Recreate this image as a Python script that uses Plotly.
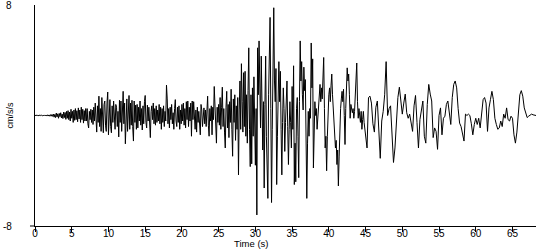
import numpy as np
import plotly.graph_objects as go

# Sampling of the digitised record (seconds)
dt_fine = 0.1   # 0 - 44.9 s
dt_coda = 0.2   # 45 - 68.2 s
t_coda_start = 45.0

# Acceleration (cm/s/s)
acc_early = [  # 0.0 - 6.9 s
    0.0, 0.01, -0.01, 0.02, -0.02, 0.01, -0.02, 0.03, -0.02, 0.02,
    -0.03, 0.03, -0.02, 0.04, -0.03, 0.03, -0.04, 0.05, -0.04, 0.04,
    -0.05, 0.06, -0.05, 0.07, -0.06, 0.1, -0.12, 0.08, -0.15, 0.18,
    -0.1, 0.12, -0.2, 0.15, -0.08, 0.2, -0.18, 0.1, -0.22, 0.25,
    -0.15, 0.22, -0.28, 0.3, -0.2, 0.35, -0.3, 0.25, -0.4, 0.45,
    -0.2, 0.3, -0.5, 0.4, -0.35, 0.5, -0.3, 0.35, -0.45, 0.55,
    -0.25, 0.4, -0.5, 0.6, -0.3, 0.45, -0.55, 0.35, -0.4, 0.5,
]
acc_strong = [  # 7.0 - 29.9 s
    -0.4, 0.5, -0.6, -0.9, 0.3, -0.3, 0.45, -0.5, 0.4, -0.65,
    0.6, -0.4, 0.9, -0.6, -1.2, 0.7, -0.5, 1.4, -0.8, 0.5,
    -1.15, 1.3, -0.6, -1.25, 0.8, 1.05, -0.7, -1.15, 0.9, 1.7,
    -1.4, 0.6, 1.15, -0.8, -1.25, 0.7, -0.5, 1.05, -0.6, -1.0,
    0.8, 0.6, -0.8, 0.3, -1.55, 1.1, -0.5, 1.05, -1.15, 1.4,
    1.75, -0.6, 0.9, -2.05, 0.8, 1.2, -1.15, 0.5, 1.45, -1.0,
    0.9, -0.7, 1.1, -0.8, -1.85, 1.05, -0.5, 0.75, -1.0, 0.8,
    -0.9, 0.6, -0.4, 1.05, -0.7, 0.5, -1.05, 0.7, -0.6, 1.0,
    1.45, -0.5, -0.9, 0.75, -0.4, 0.6, -0.8, -1.6, 0.3, 0.7,
    -0.3, 0.9, -0.6, 0.5, -0.7, 0.7, -0.5, 0.4, -0.4, 0.8,
    -0.6, 0.6, -1.0, 0.5, -0.5, 0.7, -0.8, 0.3, -0.4, 2.2,
    1.2, -0.6, 0.5, -0.9, 0.6, -0.3, 0.8, -0.6, 0.2, -1.0,
    0.5, 1.15, -0.4, -0.8, 0.6, -0.5, 0.7, -1.0, 0.4, -0.6,
    0.8, -0.4, 0.9, -0.7, 0.5, -0.9, 1.0, -0.3, 1.05, -0.8,
    0.6, -0.4, 0.9, -1.5, 1.05, -0.3, 1.0, -0.6, -1.0, 0.4,
    -1.2, 0.6, -0.5, 0.3, -0.9, -1.4, 0.8, 0.4, -0.8, 0.3,
    0.55, -0.6, 0.4, -0.8, 0.9, 1.4, -0.7, -1.5, 0.5, -0.4,
    0.7, -1.4, 0.6, -0.3, 2.1, 0.4, -0.9, -2.0, 0.6, -0.5,
    0.8, -0.7, 1.3, -1.0, 0.6, 2.05, -0.8, 0.5, -1.2, -2.35,
    0.6, 1.75, -0.9, 0.8, -1.6, 1.0, -0.5, 1.9, -1.0, -2.95,
    1.2, -0.5, 1.5, -1.8, 0.7, -1.0, 1.3, -4.3, 0.4, 2.5,
    -1.0, 3.75, 1.0, -1.2, 3.1, -0.8, 3.2, -1.5, 1.5, -2.0,
    1.8, 4.9, -1.0, -3.7, 1.5, -3.5, 2.0, -1.5, 2.8, -2.6,
]
acc_peak = [  # 30.0 - 44.9 s
    -3.6, 0.5, -7.2, 4.9, 1.5, 5.4, 2.0, -0.9, 4.3, 0.5,
    -2.5, 1.0, -5.25, 0.8, 4.3, -1.5, -3.0, -6.0, 1.5, 4.0,
    7.1, 0.5, -6.3, -1.0, 4.5, 7.8, 2.5, 1.0, 3.4, -5.0,
    -1.5, 2.0, 3.9, 1.0, 3.2, -1.0, -4.3, -0.5, 2.0, 0.5,
    -2.6, -0.5, 1.5, 2.5, -0.8, -3.55, -1.0, 1.0, -0.5, -2.35,
    2.1, -1.0, 3.6, -5.0, -2.0, -4.8, 0.5, 1.3, -1.5, -4.5,
    1.0, 5.4, 2.5, 3.9, 1.5, 0.4, 3.5, 1.8, 2.6, -2.0,
    -6.0, -2.0, 0.3, -1.5, 0.5, -0.2, 5.25, 2.0, 4.1, -3.8,
    -1.5, 1.0, 0.0, 0.5, -1.0, 0.0, 0.3, 1.5, 2.25, 1.0,
    2.0, 1.2, 2.5, 4.2, 0.5, -2.35, -1.5, -4.0, -1.5, 0.5,
    1.5, 2.0, 1.0, 2.2, 3.0, 1.5, 0.3, -1.0, -1.5, -2.35,
    -1.8, -3.55, -2.5, -5.1, -3.0, -0.7, 0.5, 1.2, 1.75, 1.0,
    1.9, 0.0, -2.1, 0.5, 2.0, 3.45, 2.5, 3.0, 1.5, -0.2,
    0.8, 0.5, 0.2, 0.5, -0.2, 0.3, 1.5, 3.0, 3.8, 1.0,
    -0.2, 0.5, 0.0, -0.5, 0.3, -1.0, -0.3, 0.3, -0.5, -1.0,
]
acc_coda = [  # 45.0 - 68.2 s, every 0.2 s
    -1.4, -2.35, 1.3, 1.4, 0.9, -0.6, -1.2, 0.6, 1.05, -1.4,
    -3.1, -0.4, 0.3, 1.5, 3.9, 0.0, 0.5, 0.7, -1.15, -3.4,
    -2.35, -0.6, 1.3, 2.05, 0.8, 0.1, 0.9, 1.55, 0.2, -0.2,
    0.1, -0.6, -1.15, 0.7, 1.45, -0.5, -2.35, -0.3, 0.6, 1.05,
    -1.5, -2.0, 0.8, 2.25, 1.55, 1.05, -1.6, -0.9, -1.15, -2.45,
    0.0, 0.55, -1.4, -0.2, -0.05, 0.8, 1.05, 0.3, -0.65, 1.3,
    2.25, 2.5, 2.0, 0.5, -0.55, -0.8, -1.25, -1.85, 0.1, 0.0,
    0.1, 0.0, -0.6, -1.4, -0.65, -0.2, -0.65, -0.2, -0.9, 0.3,
    1.15, 1.3, 0.9, -1.15, 0.55, 1.15, 1.75, 1.15, -0.2, -0.65,
    -1.0, -0.9, -0.4, -0.8, 0.1, -0.2, 0.55, -0.3, -0.4, -0.05,
    -0.2, -1.4, -2.0, -1.2, 0.3, 1.5, 1.8, 1.4, 0.55, 0.1,
    -0.15, -0.05, 0.0, 0.1, 0.05, 0.05, 0.0,
]

x_ticks = [0, 5, 10, 15, 20, 25, 30, 35, 40, 45, 50, 55, 60, 65]
y_ticks = [-8, 8]
y_tick_text = ["-8", "8"]
x_title = "Time (s)"
y_title = "cm/s/s"

fine = acc_early + acc_strong + acc_peak
t_fine = np.arange(len(fine)) * dt_fine
t_c = t_coda_start + np.arange(len(acc_coda)) * dt_coda
t = np.concatenate([t_fine, t_c])
acc = np.array(fine + acc_coda)

FONT = "Liberation Sans, Arial, sans-serif"
Y_MIN, Y_MAX = -8, 8

fig = go.Figure(go.Scatter(x=t, y=acc, mode="lines",
                           line=dict(color="black", width=1),
                           hoverinfo="skip", showlegend=False))

annotations = [
    dict(text=x_title, xref="paper", yref="paper", x=0.431, y=0,
         xanchor="center", yanchor="bottom", yshift=-24.5, showarrow=False,
         font=dict(family=FONT, size=9.5, color="black")),
    dict(text=y_title, xref="paper", yref="paper", x=-0.05, y=0.5,
         xanchor="center", yanchor="middle", textangle=-90, showarrow=False,
         font=dict(family=FONT, size=9, color="black")),
]
for v, txt in zip(y_ticks, y_tick_text):
    annotations.append(dict(text=txt, xref="paper", yref="y", x=-0.042, y=v,
                            xanchor="right", yanchor="middle", showarrow=False,
                            font=dict(family=FONT, size=10, color="black")))

fig.update_layout(
    width=550, height=250,
    margin=dict(l=35, r=14, t=5, b=24),
    paper_bgcolor="white", plot_bgcolor="white",
    font=dict(family=FONT, size=10, color="black"),
    xaxis=dict(range=[0, 68.2], tickvals=x_ticks, ticks="outside", ticklen=5,
               tickcolor="black", tickwidth=1, showline=True, linecolor="black",
               linewidth=1, showgrid=False, zeroline=False,
               ticklabelstandoff=-7,
               tickfont=dict(family=FONT, size=10, color="black")),
    yaxis=dict(range=[Y_MIN, Y_MAX], showticklabels=False, ticks="", showline=True,
               linecolor="black", linewidth=1, showgrid=False, zeroline=False),
    annotations=annotations,
    shapes=[dict(type="line", xref="paper", yref="paper", x0=-0.01, x1=0,
                 y0=0, y1=0, line=dict(color="black", width=1))],
)

fig.write_html("out.html")
